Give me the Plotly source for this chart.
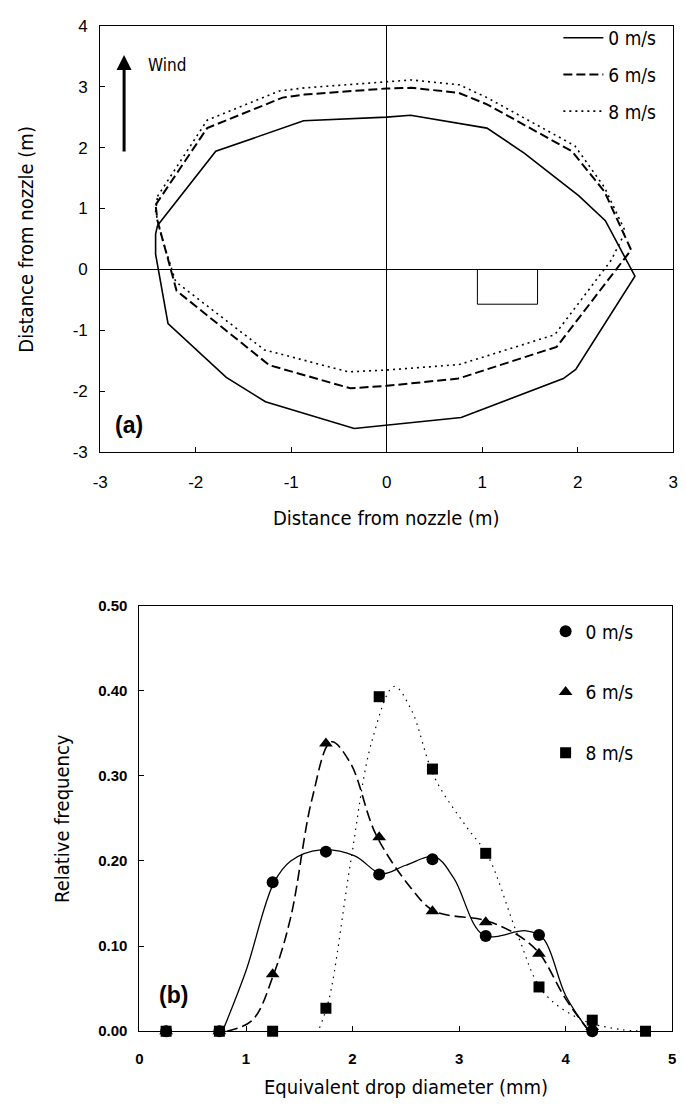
import plotly.graph_objects as go

# ---------------- Panel (a): wetted-area contours ----------------
contour_x_0 = [-2.40, -1.79, -0.87, 0.00, 0.25, 1.05, 1.44, 2.01, 2.29, 2.60, 1.98, 1.85, 0.78, 0.00, -0.34, -1.27, -1.68, -2.29, -2.42, -2.42, -2.40]
contour_y_0 = [0.72, 1.94, 2.44, 2.50, 2.53, 2.32, 1.91, 1.21, 0.80, -0.11, -1.64, -1.79, -2.43, -2.55, -2.61, -2.17, -1.77, -0.89, 0.25, 0.58, 0.72]

contour_x_6 = [-2.42, -1.88, -1.09, -0.86, 0.00, 0.26, 0.75, 1.05, 1.94, 2.28, 2.56, 1.78, 0.75, 0.00, -0.38, -1.23, -2.20, -2.40, -2.42]
contour_y_6 = [1.06, 2.32, 2.82, 2.87, 2.97, 2.98, 2.90, 2.71, 1.94, 1.28, 0.32, -1.27, -1.79, -1.91, -1.95, -1.57, -0.35, 0.80, 1.06]

contour_x_8 = [-2.40, -1.88, -1.12, -0.86, 0.00, 0.26, 0.76, 1.05, 1.97, 2.28, 2.50, 2.35, 1.76, 0.76, 0.00, -0.40, -1.28, -2.21, -2.36, -2.42, -2.40]
contour_y_8 = [1.20, 2.45, 2.93, 2.98, 3.08, 3.11, 3.03, 2.82, 2.03, 1.35, 0.62, 0.15, -1.07, -1.56, -1.65, -1.68, -1.32, -0.20, 0.55, 0.95, 1.20]

rect_x = [0.95, 1.58, 1.58, 0.95, 0.95]
rect_y = [0.00, 0.00, -0.57, -0.57, 0.00]

a_ticks_x = [-3, -2, -1, 0, 1, 2, 3]
a_ticks_y = [-3, -2, -1, 0, 1, 2, 3, 4]

# ---------------- Panel (b): drop-size distributions ----------------
diam = [0.25, 0.75, 1.25, 1.75, 2.25, 2.75, 3.25, 3.75, 4.25, 4.75]
freq_0 = [0.0, 0.0, 0.175, 0.211, 0.184, 0.202, 0.112, 0.113, 0.0, None]
freq_6 = [0.0, 0.0, 0.067, 0.338, 0.228, 0.141, 0.128, 0.091, 0.005, None]
freq_8 = [0.0, 0.0, 0.0, 0.027, 0.393, 0.308, 0.209, 0.052, 0.013, 0.0]

curve_x_0 = [0.78, 1.00, 1.26, 1.42, 1.70, 2.02, 2.27, 2.50, 2.77, 2.95, 3.23, 3.63, 3.79, 4.00, 4.22]
curve_y_0 = [0.0, 0.071, 0.174, 0.200, 0.213, 0.206, 0.185, 0.195, 0.205, 0.180, 0.113, 0.118, 0.109, 0.042, 0.0]
curve_x_6 = [0.82, 1.06, 1.26, 1.42, 1.62, 1.80, 1.98, 2.22, 2.55, 2.77, 3.25, 3.55, 3.75, 4.00, 4.22]
curve_y_6 = [0.0, 0.013, 0.067, 0.134, 0.273, 0.340, 0.315, 0.231, 0.168, 0.141, 0.130, 0.113, 0.092, 0.038, 0.0]
curve_x_8 = [1.69, 1.78, 1.98, 2.18, 2.39, 2.55, 2.77, 3.07, 3.27, 3.55, 3.79, 4.16, 4.52, 4.72]
curve_y_8 = [0.004, 0.038, 0.197, 0.340, 0.405, 0.378, 0.298, 0.240, 0.206, 0.113, 0.046, 0.013, 0.002, 0.0]

b_ticks_x = [0, 1, 2, 3, 4, 5]
b_ticks_y = [0.0, 0.1, 0.2, 0.3, 0.4, 0.5]

NARROW = "DejaVu Sans Condensed, Liberation Sans Narrow, Arial Narrow, Liberation Sans, sans-serif"
SANS = "Liberation Sans, Arial, sans-serif"

fig = go.Figure()

# Panel (a) traces
fig.add_trace(go.Scatter(x=contour_x_0, y=contour_y_0, mode="lines", name="0 m/s",
                         line=dict(color="black", width=1.6), xaxis="x", yaxis="y",
                         legend="legend", legendgroup="a0"))
fig.add_trace(go.Scatter(x=contour_x_6, y=contour_y_6, mode="lines", name="6 m/s",
                         line=dict(color="black", width=2, dash="9px,4px"), xaxis="x", yaxis="y",
                         legend="legend", legendgroup="a6"))
fig.add_trace(go.Scatter(x=contour_x_8, y=contour_y_8, mode="lines", name="8 m/s",
                         line=dict(color="black", width=1.6, dash="2px,4px"), xaxis="x", yaxis="y",
                         legend="legend", legendgroup="a8"))
fig.add_trace(go.Scatter(x=rect_x, y=rect_y, mode="lines", showlegend=False,
                         line=dict(color="black", width=1), xaxis="x", yaxis="y"))

# Panel (b) fitted curves
fig.add_trace(go.Scatter(x=curve_x_0, y=curve_y_0, mode="lines", showlegend=False,
                         line=dict(color="black", width=1.3, shape="spline", smoothing=1.0),
                         xaxis="x2", yaxis="y2", cliponaxis=False))
fig.add_trace(go.Scatter(x=curve_x_6, y=curve_y_6, mode="lines", showlegend=False,
                         line=dict(color="black", width=1.6, shape="spline", smoothing=1.0, dash="11px,5px"),
                         xaxis="x2", yaxis="y2", cliponaxis=False))
fig.add_trace(go.Scatter(x=curve_x_8, y=curve_y_8, mode="lines", showlegend=False,
                         line=dict(color="black", width=1.2, shape="spline", smoothing=1.0, dash="1.5px,5px"),
                         xaxis="x2", yaxis="y2", cliponaxis=False))

# Panel (b) markers
fig.add_trace(go.Scatter(x=diam, y=freq_0, mode="markers", name="0 m/s",
                         marker=dict(symbol="circle", size=12, color="black"),
                         xaxis="x2", yaxis="y2", legend="legend2", legendgroup="b0", cliponaxis=False))
fig.add_trace(go.Scatter(x=diam, y=freq_6, mode="markers", name="6 m/s",
                         marker=dict(symbol="triangle-up", size=12, color="black"),
                         xaxis="x2", yaxis="y2", legend="legend2", legendgroup="b6", cliponaxis=False))
fig.add_trace(go.Scatter(x=diam, y=freq_8, mode="markers", name="8 m/s",
                         marker=dict(symbol="square", size=11, color="black"),
                         xaxis="x2", yaxis="y2", legend="legend2", legendgroup="b8", cliponaxis=False))

W, H = 686, 1112
axis_common = dict(showline=True, mirror=True, linecolor="black", linewidth=1,
                   ticks="inside", ticklen=5, tickcolor="black", showgrid=False)

fig.update_layout(
    width=W, height=H,
    margin=dict(l=0, r=0, t=0, b=0),
    paper_bgcolor="white", plot_bgcolor="white",
    font=dict(family=SANS, color="black"),
    xaxis=dict(domain=[94 / W, 678 / W], range=[-3, 3], anchor="y",
               tickvals=a_ticks_x, ticktext=[str(v) for v in a_ticks_x],
               tickfont=dict(size=17, family=SANS),
               zeroline=True, zerolinecolor="black", zerolinewidth=1,
               ticklabelstandoff=14, **axis_common),
    yaxis=dict(domain=[1 - 451 / H, 1 - 17 / H], range=[-3, 4], anchor="x",
               tickvals=a_ticks_y, ticktext=[str(v) for v in a_ticks_y],
               tickfont=dict(size=17, family=SANS),
               zeroline=True, zerolinecolor="black", zerolinewidth=1,
               ticklabelstandoff=8, **axis_common),
    xaxis2=dict(domain=[134 / W, 677 / W], range=[0, 5], anchor="y2",
                tickvals=b_ticks_x, tickfont=dict(size=15, family=SANS, weight="bold"),
                zeroline=False, ticklabelstandoff=14, **axis_common),
    yaxis2=dict(domain=[1 - 1040 / H, 1 - 607 / H], range=[0, 0.5], anchor="x2",
                tickvals=b_ticks_y, tickformat=".2f",
                tickfont=dict(size=15, family=SANS, weight="bold"),
                zeroline=False, ticklabelstandoff=8, **axis_common),
    legend=dict(x=561 / W, y=1 - 10 / H, xanchor="left", yanchor="top",
                bgcolor="rgba(0,0,0,0)", font=dict(size=19, family=NARROW),
                tracegroupgap=9, itemwidth=40),
    legend2=dict(x=548 / W, y=1 - 614 / H, xanchor="left", yanchor="top",
                 bgcolor="rgba(0,0,0,0)", font=dict(size=19, family=NARROW),
                 tracegroupgap=33, itemwidth=30),
)

annotations = [
    # Wind arrow
    dict(x=-2.75, y=3.52, ax=-2.75, ay=1.91, xref="x", yref="y", axref="x", ayref="y",
         showarrow=True, arrowhead=2, arrowsize=1.0, arrowwidth=3, arrowcolor="black", text=""),
    dict(x=-2.52, y=3.36, xref="x", yref="y", text="Wind", showarrow=False,
         xanchor="left", yanchor="middle", font=dict(size=17, family=NARROW)),
    dict(x=-2.87, y=-2.55, xref="x", yref="y", text="<b>(a)</b>", showarrow=False,
         xanchor="left", yanchor="middle", font=dict(size=23, family=SANS)),
    dict(x=0.16, y=0.042, xref="x2", yref="y2", text="<b>(b)</b>", showarrow=False,
         xanchor="left", yanchor="middle", font=dict(size=23, family=SANS)),
    # Axis titles
    dict(x=386 / W, y=1 - 518 / H, xref="paper", yref="paper", text="Distance from nozzle (m)",
         showarrow=False, xanchor="center", yanchor="middle", font=dict(size=20, family=NARROW)),
    dict(x=18 / W, y=1 - 234 / H, xref="paper", yref="paper", text="Distance from nozzle (m)",
         showarrow=False, textangle=-90, xanchor="center", yanchor="middle",
         font=dict(size=20, family=NARROW)),
    dict(x=406 / W, y=1 - 1097 / H, xref="paper", yref="paper", text="Equivalent drop diameter (mm)",
         showarrow=False, xanchor="center", yanchor="middle", font=dict(size=20, family=NARROW)),
    dict(x=55 / W, y=1 - 823 / H, xref="paper", yref="paper", text="Relative frequency",
         showarrow=False, textangle=-90, xanchor="center", yanchor="middle",
         font=dict(size=20, family=NARROW)),
]
fig.update_layout(annotations=annotations)

fig.write_html("out.html", config={"displayModeBar": False},
               post_script="document.body.style.margin='0';document.body.style.overflow='hidden';")
